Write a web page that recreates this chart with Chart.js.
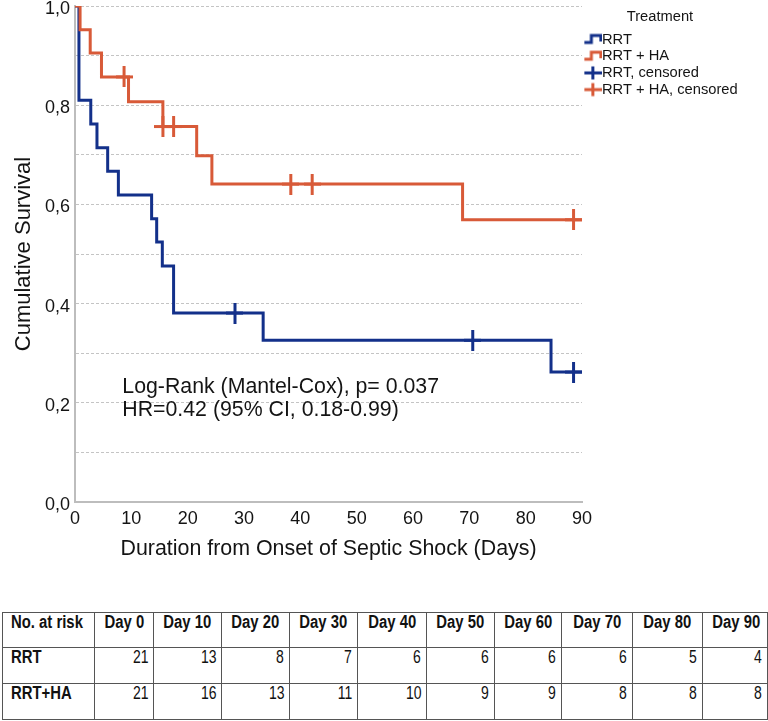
<!DOCTYPE html>
<html><head><meta charset="utf-8">
<script src="https://cdn.jsdelivr.net/npm/chart.js@4/dist/chart.umd.min.js"></script>
<style>
html,body{margin:0;padding:0;background:#fff;}
#wrap{position:relative;width:768px;height:721px;overflow:hidden;}
canvas{position:absolute;left:0;top:0;}
table{position:absolute;left:2px;top:612px;border-collapse:collapse;table-layout:fixed;width:765px;
 font-family:"Liberation Sans",Arial,sans-serif;font-size:17.5px;color:#111;}
td,th{border:1.5px solid #555;vertical-align:top;padding:0 5px 0 5px;line-height:18px;white-space:nowrap;overflow:visible;}
th{font-weight:bold;text-align:center;}
th.first,td.first{text-align:left;font-weight:bold;padding-left:8px;}
td{text-align:right;}
span.s{display:inline-block;}
th span.s{transform:scaleX(0.85);transform-origin:50% 50%;}
th.first span.s,td.first span.s{transform:scaleX(0.85);transform-origin:0 50%;}
td span.s{transform:scaleX(0.8);transform-origin:100% 50%;}
</style></head>
<body><div id="wrap"><canvas id="c" width="768" height="575"></canvas><table id="risk"></table></div>
<script>
// ---- data ----
const rrtTimes = [0, 0.7, 2.8, 3.9, 5.8, 7.7, 13.6, 14.5, 15.5, 17.5, 33.4, 84.5, 90];
const rrtSurv  = [1, 0.81, 0.762, 0.714, 0.667, 0.619, 0.571, 0.524, 0.476, 0.381, 0.326, 0.262, 0.262];
const haTimes  = [0, 0.9, 2.7, 4.7, 9.5, 15.6, 21.6, 24.3, 68.8, 90];
const haSurv   = [1, 0.952, 0.905, 0.857, 0.807, 0.757, 0.698, 0.641, 0.569, 0.569];
const rrtCensTimes = [28.4, 70.6, 88.5];
const rrtCensSurv  = [0.381, 0.326, 0.262];
const haCensTimes  = [8.7, 15.6, 17.5, 38.3, 42.1, 88.5];
const haCensSurv   = [0.857, 0.757, 0.757, 0.641, 0.641, 0.569];
const seriesLabels = ['RRT', 'RRT + HA', 'RRT, censored', 'RRT + HA, censored'];
const yTickLabels = ['0,0', '0,2', '0,4', '0,6', '0,8', '1,0'];
const xTickValues = [0, 10, 20, 30, 40, 50, 60, 70, 80, 90];
const riskHeader = ['No. at risk', 'Day 0', 'Day 10', 'Day 20', 'Day 30', 'Day 40', 'Day 50', 'Day 60', 'Day 70', 'Day 80', 'Day 90'];
const riskGroups = ['RRT', 'RRT+HA'];
const riskRRT   = [21, 13, 8, 7, 6, 6, 6, 6, 5, 4];
const riskRRTHA = [21, 16, 13, 11, 10, 9, 9, 8, 8, 8];
const annotationLines = ['Log-Rank (Mantel-Cox), p= 0.037', 'HR=0.42 (95% CI, 0.18-0.99)'];

// ---- styling ----
const BLUE = '#13308a';
const ORANGE = '#d85a38';
const FONT = '"Liberation Sans", Arial, sans-serif';
const TXT = '#141414';
const LEG_BOX = 10.65;

function stepIcon(color) {
  const c = document.createElement('canvas'); c.width = 26; c.height = 14;
  const g = c.getContext('2d'); g.strokeStyle = color; g.lineWidth = 3;
  g.beginPath(); g.moveTo(8, 10); g.lineTo(15, 10); g.lineTo(15, 3); g.lineTo(24.5, 3); g.lineTo(24.5, 9); g.stroke();
  return c;
}
function crossIcon(color) {
  const c = document.createElement('canvas'); c.width = 26; c.height = 16;
  const g = c.getContext('2d'); g.strokeStyle = color; g.lineWidth = 3;
  g.beginPath(); g.moveTo(8, 8); g.lineTo(26, 8); g.moveTo(16.5, 1.5); g.lineTo(16.5, 14.5); g.stroke();
  return c;
}
function crossMark(color) {
  const c = document.createElement('canvas'); c.width = 17; c.height = 21;
  const g = c.getContext('2d'); g.strokeStyle = color; g.lineWidth = 3;
  g.beginPath(); g.moveTo(0, 10.5); g.lineTo(17, 10.5); g.moveTo(8.5, 0); g.lineTo(8.5, 21); g.stroke();
  return c;
}
const pts = (xs, ys) => xs.map((x, i) => ({x: x, y: ys[i]}));

const annotationPlugin = {
  id: 'annot',
  afterDraw(chart) {
    const {ctx, scales} = chart;
    ctx.save();
    ctx.font = '21.3px ' + FONT;
    ctx.fillStyle = TXT;
    ctx.textAlign = 'left';
    ctx.textBaseline = 'middle';
    const x = scales.x.getPixelForValue(8.4);
    ctx.fillText(annotationLines[0], x, scales.y.getPixelForValue(0.231));
    ctx.fillText(annotationLines[1], x, scales.y.getPixelForValue(0.186));
    ctx.restore();
  }
};

const defaultGen = Chart.defaults.plugins.legend.labels.generateLabels;

new Chart(document.getElementById('c'), {
  type: 'line',
  data: {
    datasets: [
      {label: seriesLabels[0], data: pts(rrtTimes, rrtSurv), borderColor: BLUE, borderWidth: 3, pointRadius: 0,
       stepped: 'before', fill: false, order: 2, legendIcon: stepIcon(BLUE)},
      {label: seriesLabels[1], data: pts(haTimes, haSurv), borderColor: ORANGE, borderWidth: 3, pointRadius: 0,
       stepped: 'before', fill: false, order: 1, legendIcon: stepIcon(ORANGE)},
      {label: seriesLabels[2], data: pts(rrtCensTimes, rrtCensSurv), showLine: false, pointStyle: crossMark(BLUE),
       pointRadius: 5, borderColor: BLUE, backgroundColor: BLUE, order: 0, legendIcon: crossIcon(BLUE)},
      {label: seriesLabels[3], data: pts(haCensTimes, haCensSurv), showLine: false, pointStyle: crossMark(ORANGE),
       pointRadius: 5, borderColor: ORANGE, backgroundColor: ORANGE, order: 0, legendIcon: crossIcon(ORANGE)}
    ]
  },
  options: {
    responsive: false,
    animation: false,
    devicePixelRatio: 1,
    layout: {padding: {top: 5, left: 0, bottom: 0, right: 30}},
    plugins: {
      tooltip: {enabled: false},
      legend: {
        position: 'right',
        align: 'start',
        maxWidth: 156,
        title: {display: true, text: 'Treatment', color: TXT, font: {size: 14.7, family: FONT}, padding: {top: 4.3, bottom: 3.2}},
        labels: {
          usePointStyle: true,
          pointStyleWidth: LEG_BOX,
          padding: 2,
          color: TXT,
          font: {size: 14.7, family: FONT},
          sort: (a, b) => a.datasetIndex - b.datasetIndex,
          generateLabels(chart) {
            const items = defaultGen(chart);
            items.forEach(it => { it.pointStyle = chart.data.datasets[it.datasetIndex].legendIcon; });
            return items;
          }
        }
      }
    },
    scales: {
      x: {
        type: 'linear', min: 0, max: 90,
        afterBuildTicks(s) { s.ticks = xTickValues.map(v => ({value: v})); },
        afterFit(s) { s.height = 73; },
        grid: {display: false, drawTicks: false},
        border: {display: true, color: '#bdbdbd', width: 2},
        ticks: {color: TXT, font: {size: 18, family: FONT}, padding: 6, maxRotation: 0, autoSkip: false},
        title: {display: true, text: 'Duration from Onset of Septic Shock (Days)', color: TXT,
                font: {size: 21.4, family: FONT}, padding: {top: 0, bottom: 13.2}}
      },
      y: {
        type: 'linear', min: 0, max: 1,
        ticks: {stepSize: 0.1, color: TXT, font: {size: 18, family: FONT}, padding: 5, autoSkip: false, labelOffset: 3,
                callback: (v) => { const k = Math.round(v * 10); return k % 2 === 0 ? yTickLabels[k / 2] : ''; }},
        afterFit(s) { s.width = 75; s.paddingTop = 0; s.paddingBottom = 0; },
        grid: {display: true, drawTicks: false, color: '#c4c4c4', lineWidth: 1},
        border: {display: true, color: '#bdbdbd', width: 2, dash: [3, 2]},
        title: {display: true, text: 'Cumulative Survival', color: TXT, font: {size: 22, family: FONT}, padding: {top: 11, bottom: 0}}
      }
    }
  },
  plugins: [annotationPlugin]
});

// ---- number at risk table ----
const tbl = document.getElementById('risk');
const colW = [92, 59, 68, 68, 68, 69, 68, 67, 71, 70, 65];
const cg = document.createElement('colgroup');
colW.forEach(w => { const c = document.createElement('col'); c.style.width = w + 'px'; cg.appendChild(c); });
tbl.appendChild(cg);
function cell(tag, text, cls) {
  const el = document.createElement(tag);
  if (cls) el.className = cls;
  const sp = document.createElement('span'); sp.className = 's'; sp.textContent = text; el.appendChild(sp);
  return el;
}
const hr = document.createElement('tr'); hr.style.height = '35px';
riskHeader.forEach((h, i) => hr.appendChild(cell('th', h, i === 0 ? 'first' : '')));
tbl.appendChild(hr);
[riskRRT, riskRRTHA].forEach((row, r) => {
  const tr = document.createElement('tr'); tr.style.height = '36px';
  tr.appendChild(cell('td', riskGroups[r], 'first'));
  row.forEach(v => tr.appendChild(cell('td', String(v), '')));
  tbl.appendChild(tr);
});
</script>
</body></html>
